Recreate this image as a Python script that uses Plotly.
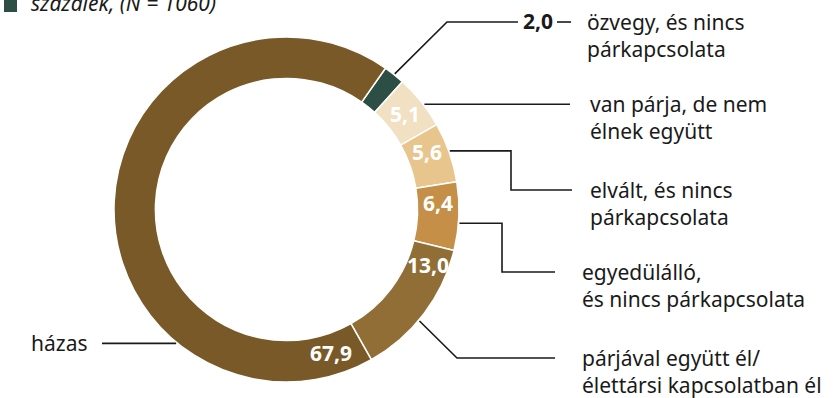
import math
import plotly.graph_objects as go

# Relationship status shares, percent (N = 1060)
categories = [
    "özvegy, és nincs párkapcsolata",
    "van párja, de nem élnek együtt",
    "elvált, és nincs párkapcsolata",
    "egyedülálló, és nincs párkapcsolata",
    "párjával együtt él/élettársi kapcsolatban él",
    "házas",
]
shares = [2.0, 5.1, 5.6, 6.4, 13.0, 67.9]
label_lines = [
    "özvegy, és nincs<br>párkapcsolata",
    "van párja, de nem<br>élnek együtt",
    "elvált, és nincs<br>párkapcsolata",
    "egyedülálló,<br>és nincs párkapcsolata",
    "párjával együtt él/<br>élettársi kapcsolatban él",
    "házas",
]
title_text = "százalék, (N = 1060)"

colors = ["#2d4e44", "#f1e0c2", "#e7c58c", "#c58f48", "#916e35", "#7a5928"]
FONT = "Noto Sans"
INK = "#1a1a1a"

# page geometry (pixels)
W, H = 836, 398
CX, CY, R = 286.5, 209.5, 172.5
HOLE = 0.76
ROT = 35.0


def px(x):
    return x / W


def py(y):
    return 1 - y / H


def fmt(v):
    return f"{v:.1f}".replace(".", ",")


total = sum(shares)
starts, spans = [], []
acc = 0.0
for v in shares:
    starts.append(ROT + 360.0 * acc / total)
    spans.append(360.0 * v / total)
    acc += v


def polar(angle_deg, r):
    a = math.radians(angle_deg)
    return CX + r * math.sin(a), CY - r * math.cos(a)


def slice_point(i, frac, r):
    return polar(starts[i] + frac * spans[i], r)


fig = go.Figure(
    go.Pie(
        labels=categories,
        values=shares,
        sort=False,
        direction="clockwise",
        rotation=ROT,
        hole=HOLE,
        marker=dict(colors=colors, line=dict(color="white", width=1.5)),
        textinfo="none",
        hoverinfo="label+value",
        showlegend=False,
        domain=dict(x=[px(CX - R), px(CX + R)], y=[py(CY + R), py(CY - R)]),
    )
)

annotations = []
shapes = []

# values written inside the ring
inner_frac = [None, 0.5, 0.37, 0.31, 0.17, 0.05]
r_mid = R * (1 + HOLE) / 2
for i, f in enumerate(inner_frac):
    if f is None:
        continue
    x, y = slice_point(i, f, r_mid)
    annotations.append(dict(
        x=px(x), y=py(y - 1), xref="paper", yref="paper",
        text=f"<b>{fmt(shares[i])}</b>", showarrow=False,
        xanchor="center", yanchor="middle",
        font=dict(family=FONT, size=21, color="white"),
    ))


def path(points):
    d = "M " + " L ".join(f"{px(x):.5f},{py(y):.5f}" for x, y in points)
    return dict(type="path", path=d, xref="paper", yref="paper",
                line=dict(color=INK, width=1.6))


# leader lines: anchor on the outer edge, then elbows towards the texts
leader_frac = [0.5, 0.57, 0.48, 0.6, 0.56, 0.282]
anchors = [slice_point(i, f, R + 1) for i, f in enumerate(leader_frac)]

a0 = anchors[0]
shapes.append(path([a0, (447, 22), (518, 22)]))
shapes.append(path([(557, 22), (571, 22)]))
a1 = anchors[1]
shapes.append(path([a1, (570, a1[1])]))
a2 = anchors[2]
shapes.append(path([a2, (511, a2[1]), (511, 190), (572, 190)]))
a3 = anchors[3]
shapes.append(path([a3, (502, a3[1]), (502, 272), (555, 272)]))
a4 = anchors[4]
shapes.append(path([a4, (457, 358), (555, 358)]))
a5 = anchors[5]
shapes.append(path([(102, a5[1]), a5]))

# the smallest share is labelled outside the ring
annotations.append(dict(
    x=px(537.5), y=py(21), xref="paper", yref="paper",
    text=f"<b>{fmt(shares[0])}</b>", showarrow=False,
    xanchor="center", yanchor="middle",
    font=dict(family=FONT, size=21, color=INK),
))

# category texts: (left x, centre of first line)
text_pos = [(585, 22), (588, 104), (588, 190), (580, 272), (580, 358)]
for i, (x, y1) in enumerate(text_pos):
    annotations.append(dict(
        x=px(x), y=py(y1 + 13.6), xref="paper", yref="paper",
        text=label_lines[i], showarrow=False, align="left",
        xanchor="left", yanchor="middle",
        font=dict(family=FONT, size=21, color=INK),
    ))
annotations.append(dict(
    x=px(89), y=py(a5[1]), xref="paper", yref="paper",
    text=label_lines[5], showarrow=False, align="right",
    xanchor="right", yanchor="middle",
    font=dict(family=FONT, size=21, color=INK),
))

# header: colour key and caption, running off the top edge
shapes.append(dict(type="rect", xref="paper", yref="paper",
                   x0=px(4), x1=px(17), y0=py(12), y1=py(-1),
                   fillcolor=colors[0], line=dict(width=0)))
annotations.append(dict(
    x=px(29), y=py(3), xref="paper", yref="paper",
    text=f"<i>{title_text}</i>", showarrow=False,
    xanchor="left", yanchor="middle",
    font=dict(family=FONT, size=21, color=INK),
))

fig.update_layout(
    width=W, height=H,
    margin=dict(l=0, r=0, t=0, b=0),
    paper_bgcolor="white", plot_bgcolor="white",
    annotations=annotations, shapes=shapes,
)

fig.write_html("out.html")
